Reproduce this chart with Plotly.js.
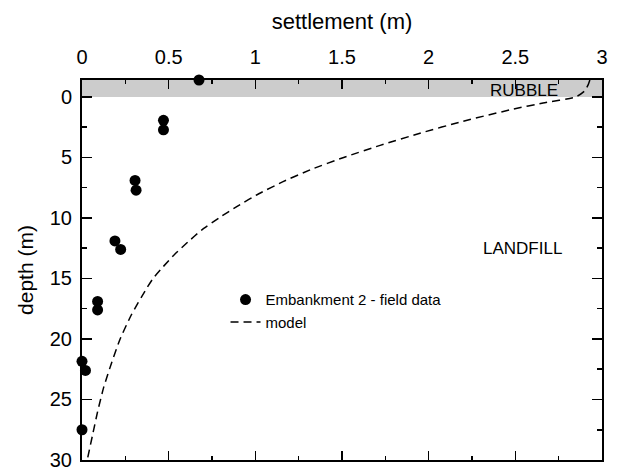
<!DOCTYPE html>
<html>
<head>
<meta charset="utf-8">
<script src="https://cdn.plot.ly/plotly-3.0.1.min.js"></script>
<style>
  html, body { margin: 0; padding: 0; background: #fff; }
  #chart { width: 625px; height: 476px; }
</style>
</head>
<body>
<div id="chart"></div>
<script>
// Field measurements, Embankment 2
const fieldSettlement = [0.675, 0.47, 0.47, 0.306, 0.312, 0.19, 0.223, 0.09, 0.09, 0.0, 0.02, 0.0];
const fieldDepth      = [-1.4, 1.93, 2.72, 6.9, 7.7, 11.9, 12.6, 16.9, 17.6, 21.85, 22.6, 27.5];

// Model settlement profile
const modelDepth      = [-1.4, -1.0, -0.5, 0, 0.5, 1, 2, 3, 4, 5, 6, 7, 8, 9, 10, 11, 12, 13, 14, 15, 16, 18, 20, 22, 24, 26, 28, 30];
const modelSettlement = [2.93, 2.92, 2.90, 2.85, 2.66, 2.49, 2.20, 1.95, 1.72, 1.51, 1.32, 1.16, 1.02, 0.90, 0.79, 0.69, 0.61, 0.535, 0.47, 0.41, 0.365, 0.285, 0.22, 0.17, 0.125, 0.09, 0.06, 0.03];

const xTicks = [0, 0.5, 1, 1.5, 2, 2.5, 3];
const xTickText = ['0', '0.5', '1', '1.5', '2', '2.5', '3'];
const yTicks = [0, 5, 10, 15, 20, 25, 30];

const depthTop = -1.4;
const rubbleBase = 0;

const traces = [
  {
    x: fieldSettlement, y: fieldDepth,
    type: 'scatter', mode: 'markers',
    name: 'Embankment 2 - field data',
    marker: { color: '#000', size: 11, symbol: 'circle' },
    cliponaxis: false
  },
  {
    x: modelSettlement, y: modelDepth,
    type: 'scatter', mode: 'lines',
    name: 'model',
    line: { color: '#000', width: 1.5, dash: '8px,5px', shape: 'spline', smoothing: 0.5 }
  }
];

const family = '"Liberation Sans", Arial, sans-serif';
const font = { family: family, color: '#000' };

const layout = {
  width: 625, height: 476,
  margin: { l: 82, r: 23, t: 80, b: 16 },
  paper_bgcolor: '#fff', plot_bgcolor: '#fff',
  font: Object.assign({ size: 15 }, font),
  showlegend: true,
  legend: {
    x: 0.276, y: 0.465, xanchor: 'left', yanchor: 'top',
    bgcolor: 'rgba(0,0,0,0)', borderwidth: 0,
    font: Object.assign({ size: 15 }, font),
    tracegroupgap: 0
  },
  xaxis: {
    side: 'top', range: [0, 3],
    tickvals: xTicks, ticktext: xTickText,
    ticks: 'inside', ticklen: 9, tickwidth: 1.5, tickcolor: '#000',
    minor: { dtick: 0.25, ticks: 'inside', ticklen: 4, tickwidth: 1.5, tickcolor: '#000', showgrid: false },
    showline: true, linecolor: '#000', linewidth: 2, mirror: 'allticks',
    showgrid: false, zeroline: false,
    tickfont: Object.assign({ size: 20 }, font),
    ticklabelstandoff: 6,
    title: { text: 'settlement (m)', font: Object.assign({ size: 22 }, font), standoff: 10 }
  },
  yaxis: {
    range: [30, depthTop],
    tickvals: yTicks,
    ticks: 'inside', ticklen: 10, tickwidth: 1.5, tickcolor: '#000',
    minor: { dtick: 2.5, tick0: 0, ticks: 'inside', ticklen: 5, tickwidth: 1.5, tickcolor: '#000', showgrid: false },
    showline: true, linecolor: '#000', linewidth: 2, mirror: 'allticks',
    showgrid: false, zeroline: false,
    tickfont: Object.assign({ size: 20 }, font),
    ticklabelstandoff: 4,
    title: { text: 'depth (m)', font: Object.assign({ size: 21 }, font), standoff: 10 }
  },
  shapes: [
    {
      type: 'rect', layer: 'below',
      xref: 'paper', x0: 0, x1: 1,
      yref: 'y', y0: depthTop, y1: rubbleBase,
      fillcolor: '#cccccc', line: { width: 0 }
    }
  ],
  annotations: [
    { text: 'RUBBLE', xref: 'x', yref: 'y', x: 2.55, y: -0.5, showarrow: false,
      font: Object.assign({ size: 17 }, font) },
    { text: 'LANDFILL', xref: 'x', yref: 'y', x: 2.54, y: 12.5, showarrow: false,
      font: Object.assign({ size: 17 }, font) }
  ]
};

Plotly.newPlot('chart', traces, layout, { displayModeBar: false, staticPlot: true });
</script>
</body>
</html>
